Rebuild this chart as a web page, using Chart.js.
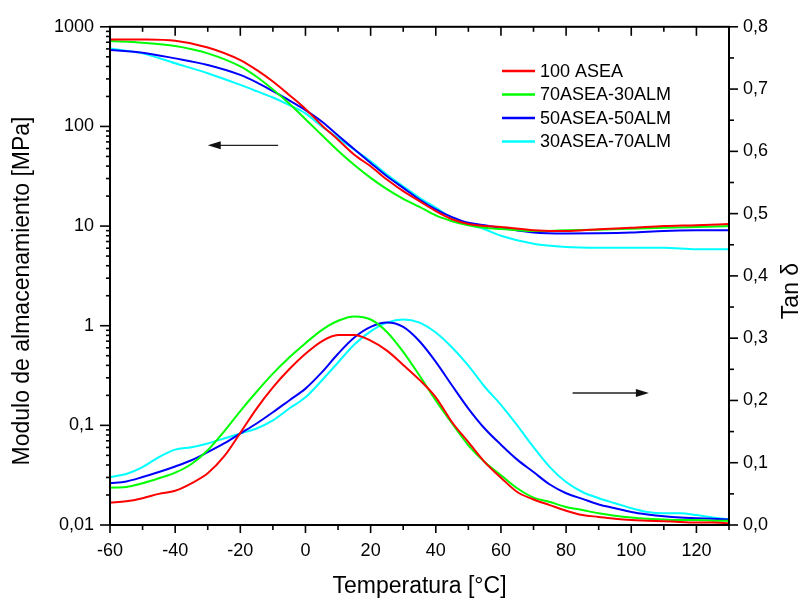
<!DOCTYPE html>
<html><head><meta charset="utf-8">
<script src="https://cdn.jsdelivr.net/npm/chart.js@4"></script>
<style>html,body{margin:0;padding:0;background:#fff}#wrap{width:803px;height:598px;position:relative}</style>
</head><body><div id="wrap"><canvas id="c"></canvas></div>
<script>
// ---------- DATA ----------
const seriesLabels = ['100 ASEA', '70ASEA-30ALM', '50ASEA-50ALM', '30ASEA-70ALM'];
const seriesColors = ['#ff0000', '#00ff00', '#0000ff', '#00ffff'];

// Storage modulus [MPa] (left, log axis)
const tempModulus = [-60,-50,-40,-30,-20,-15,-10,-5,0,5,10,15,20,25,30,35,40,45,50,55,60,70,80,90,100,110,120,130];
const modulus100ASEA = [747,745,724,621,464,369,282,207,150,103,73.6,52,39.8,29.3,22.4,17.8,14.1,11.7,10.5,10,9.8,9.1,8.9,9.3,9.6,10,10.2,10.5];
const modulus70_30   = [719,692,641,541,400,315,235,170,118,82,57,41,30.5,23.5,18.8,15.6,12.8,11.2,10.2,9.6,9.35,8.9,9.06,9.2,9.4,9.6,9.8,10];
const modulus50_50   = [584,550,482,414,329,277,226,183,146,112,81,59,43,31.6,24.2,18.5,14.7,12.3,10.8,10.2,9.6,8.6,8.4,8.45,8.6,8.9,9.06,9.1];
const modulus30_70   = [607,541,430,342,261,226,195,164,135,100,76.4,58.4,44.7,32.9,25.1,19.2,15.3,12.1,10.4,9.3,8.0,6.65,6.17,6.07,6.07,6.07,5.85,5.85];

// Tan delta (right, linear axis)
const tempTan = [-60,-55,-50,-45,-40,-35,-30,-25,-20,-15,-10,-5,0,5,10,15,20,25,30,35,40,45,50,55,60,65,70,75,80,85,90,95,100,105,110,115,120,125,130];
const tan100ASEA = [0.036,0.038,0.043,0.050,0.055,0.067,0.083,0.110,0.148,0.187,0.221,0.250,0.275,0.295,0.305,0.305,0.296,0.280,0.257,0.233,0.205,0.165,0.133,0.101,0.076,0.053,0.041,0.032,0.023,0.016,0.013,0.010,0.008,0.007,0.006,0.005,0.004,0.004,0.003];
const tan70_30   = [0.060,0.061,0.067,0.075,0.084,0.098,0.120,0.150,0.183,0.214,0.243,0.269,0.292,0.313,0.328,0.335,0.330,0.310,0.278,0.240,0.200,0.163,0.128,0.101,0.080,0.059,0.044,0.037,0.029,0.024,0.019,0.015,0.012,0.010,0.009,0.008,0.008,0.007,0.007];
const tan50_50   = [0.067,0.070,0.077,0.085,0.094,0.104,0.117,0.131,0.147,0.163,0.181,0.200,0.219,0.245,0.275,0.301,0.318,0.325,0.318,0.295,0.262,0.224,0.187,0.155,0.129,0.105,0.085,0.065,0.051,0.042,0.033,0.027,0.021,0.017,0.014,0.012,0.011,0.010,0.009];
const tan30_70   = [0.077,0.082,0.093,0.109,0.121,0.125,0.131,0.139,0.147,0.155,0.168,0.187,0.205,0.232,0.261,0.290,0.311,0.325,0.330,0.325,0.309,0.285,0.256,0.222,0.193,0.160,0.125,0.093,0.069,0.053,0.043,0.035,0.027,0.021,0.019,0.019,0.016,0.012,0.009];

// Tick labels / axis texts
const xTicks = [-60,-40,-20,0,20,40,60,80,100,120];
const leftTicks = [0.01,0.1,1,10,100,1000];
const rightTicks = [0,0.1,0.2,0.3,0.4,0.5,0.6,0.7,0.8];
const xTitle = 'Temperatura [°C]';
const leftTitle = 'Modulo de almacenamiento [MPa]';
const rightTitle = 'Tan δ';
// Annotation arrows (data coordinates)
const arrowModulus = { from: -8.4, to: -30, value: 64.6 };
const arrowTan = { from: 82, to: 105.4, value: 0.212 };

// ---------- CHART ----------
const FONT = '"Liberation Sans", Arial, Helvetica, sans-serif';
const toXY = (xs, ys) => xs.map((x, i) => ({ x, y: ys[i] }));
const modSeries = [modulus100ASEA, modulus70_30, modulus50_50, modulus30_70];
const tanSeries = [tan100ASEA, tan70_30, tan50_50, tan30_70];
const datasets = [];
modSeries.forEach((s, i) => datasets.push({
  label: seriesLabels[i], data: toXY(tempModulus, s), yAxisID: 'y',
  borderColor: seriesColors[i], borderWidth: 2, pointRadius: 0, cubicInterpolationMode: 'monotone', fill: false
}));
tanSeries.forEach((s, i) => datasets.push({
  label: seriesLabels[i] + ' tan', data: toXY(tempTan, s), yAxisID: 'y2',
  borderColor: seriesColors[i], borderWidth: 2, pointRadius: 0, cubicInterpolationMode: 'monotone', fill: false
}));

const comma = v => String(v).replace('.', ',');

const decor = {
  id: 'decor',
  afterDatasetsDraw(chart) {
    const { ctx, chartArea: a, scales } = chart;
    const sx = scales.x, sy = scales.y, sy2 = scales.y2;
    ctx.save();
    const line = (x1, y1, x2, y2) => { ctx.beginPath(); ctx.moveTo(x1, y1); ctx.lineTo(x2, y2); ctx.stroke(); };
    // frame
    ctx.strokeStyle = '#000'; ctx.lineWidth = 2;
    ctx.strokeRect(a.left, a.top, a.right - a.left, a.bottom - a.top);
    ctx.lineWidth = 1.6;
    // x ticks (major + minor)
    for (let i = 0; i < xTicks.length; i++) {
      const t = xTicks[i];
      const p = sx.getPixelForValue(t);
      line(p, a.bottom, p, a.bottom + 8); line(p, a.top, p, a.top + 9);
      const m = t + 10;
      if (m <= sx.max) { const q = sx.getPixelForValue(m); line(q, a.bottom, q, a.bottom + 5); line(q, a.top, q, a.top + 5); }
    }
    // left log ticks
    leftTicks.forEach((d, i) => {
      const p = sy.getPixelForValue(d); line(a.left, p, a.left - 10, p);
      if (i < leftTicks.length - 1) for (let k = 2; k <= 9; k++) { const q = sy.getPixelForValue(d * k); line(a.left, q, a.left - 4, q); }
    });
    // right linear ticks
    rightTicks.forEach((v, i) => {
      const p = sy2.getPixelForValue(v); line(a.right, p, a.right + 9, p);
      if (i < rightTicks.length - 1) { const q = sy2.getPixelForValue(v + 0.05); line(a.right, q, a.right + 5, q); }
    });
    // arrows
    const drawArrow = (x1, x2, yy) => {
      ctx.strokeStyle = '#222'; ctx.fillStyle = '#111'; ctx.lineWidth = 1.3;
      const dir = Math.sign(x2 - x1);
      line(x1, yy, x2 - dir * 10, yy);
      ctx.beginPath(); ctx.moveTo(x2, yy); ctx.lineTo(x2 - dir * 13, yy - 4); ctx.lineTo(x2 - dir * 13, yy + 4); ctx.closePath(); ctx.fill();
    };
    drawArrow(sx.getPixelForValue(arrowModulus.from), sx.getPixelForValue(arrowModulus.to), sy.getPixelForValue(arrowModulus.value));
    drawArrow(sx.getPixelForValue(arrowTan.from), sx.getPixelForValue(arrowTan.to), sy2.getPixelForValue(arrowTan.value));
    // legend
    ctx.font = '18px ' + FONT; ctx.textBaseline = 'middle'; ctx.textAlign = 'left'; ctx.fillStyle = '#000';
    seriesLabels.forEach((lab, i) => {
      const yy = 71 + i * 23.5;
      ctx.strokeStyle = seriesColors[i]; ctx.lineWidth = 2.5;
      line(502, yy, 535, yy);
      ctx.fillText(lab, 540, yy + 1);
    });
    // titles
    ctx.fillStyle = '#000'; ctx.font = '23px ' + FONT; ctx.textAlign = 'center'; ctx.textBaseline = 'middle';
    ctx.fillText(xTitle, (a.left + a.right) / 2, 587);
    ctx.save(); ctx.translate(23, 291); ctx.rotate(-Math.PI / 2); ctx.fillText(leftTitle, 0, 0); ctx.restore();
    ctx.save(); ctx.translate(792, 291); ctx.rotate(-Math.PI / 2); ctx.fillText(rightTitle, 0, 0); ctx.restore();
    ctx.restore();
  }
};

const tickFont = { family: FONT, size: 18 };
new Chart(document.getElementById('c'), {
  type: 'line',
  data: { datasets },
  options: {
    responsive: true, maintainAspectRatio: false, animation: false,
    layout: { padding: { top: 25, left: 0, right: 0, bottom: 0 } },
    plugins: { legend: { display: false }, tooltip: { enabled: false } },
    scales: {
      x: {
        type: 'linear', position: 'bottom', min: -60, max: 130,
        grid: { display: false, drawTicks: false }, border: { display: false },
        afterBuildTicks: s => { s.ticks = xTicks.map(v => ({ value: v })); },
        afterFit: s => { s.height = 73; },
        ticks: { font: tickFont, color: '#000', padding: 15, maxRotation: 0, autoSkip: false, callback: v => comma(v) }
      },
      y: {
        type: 'logarithmic', position: 'left', min: 0.01, max: 1000,
        grid: { display: false, drawTicks: false }, border: { display: false },
        afterBuildTicks: s => { s.ticks = leftTicks.map(v => ({ value: v })); },
        afterFit: s => { s.width = 110; },
        ticks: { font: tickFont, color: '#000', padding: 16, autoSkip: false, callback: v => comma(v) }
      },
      y2: {
        type: 'linear', position: 'right', min: 0, max: 0.8,
        grid: { display: false, drawTicks: false }, border: { display: false },
        afterBuildTicks: s => { s.ticks = rightTicks.map(v => ({ value: v })); },
        afterFit: s => { s.width = 74; },
        ticks: { font: tickFont, color: '#000', padding: 14, autoSkip: false, callback: v => comma(Number(v).toFixed(1)) }
      }
    }
  },
  plugins: [decor]
});
</script>
</body></html>
